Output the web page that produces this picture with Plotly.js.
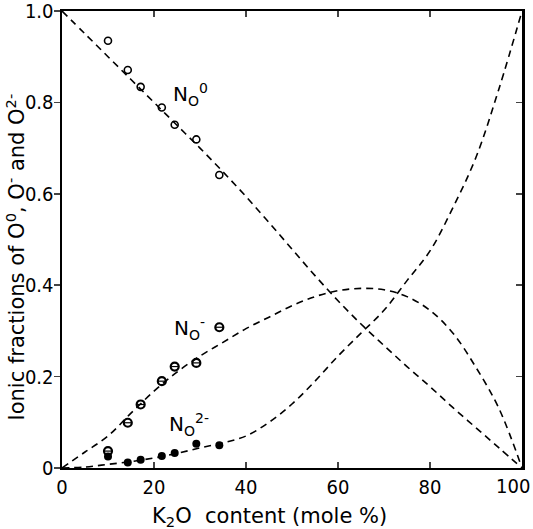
<!DOCTYPE html>
<html><head><meta charset="utf-8">
<script src="https://cdn.plot.ly/plotly-3.0.1.min.js"></script>
<style>html,body{margin:0;padding:0;background:#fff}#c{width:533px;height:529px}</style>
</head><body><div id="c"></div>
<script>
// measured points (K2O mole %)
const ptX = [10, 14.3, 17.1, 21.7, 24.5, 29.2, 34.2];
const ptO0 = [0.935, 0.871, 0.834, 0.789, 0.751, 0.719, 0.641];
const ptOm = [0.037, 0.099, 0.139, 0.190, 0.222, 0.230, 0.308];
const ptO2m = [0.025, 0.012, 0.018, 0.026, 0.033, 0.053, 0.050];

// calculated curves
const cX = [0, 5, 10, 15, 20, 25, 30, 35, 40, 45, 50, 55, 60, 65, 70, 75, 80, 85, 90, 95, 100];
const cO0 = [1.0, 0.95, 0.90, 0.85, 0.80, 0.75, 0.70, 0.648, 0.594, 0.537, 0.479, 0.421, 0.366, 0.315, 0.268, 0.222, 0.178, 0.132, 0.088, 0.044, 0.0];
const cOm = [0, 0.035, 0.07, 0.12, 0.168, 0.21, 0.245, 0.275, 0.305, 0.33, 0.355, 0.375, 0.388, 0.393, 0.39, 0.375, 0.345, 0.295, 0.22, 0.13, 0];
const cO2m = [0, 0.002, 0.008, 0.014, 0.022, 0.032, 0.044, 0.055, 0.07, 0.1, 0.14, 0.19, 0.245, 0.295, 0.345, 0.41, 0.475, 0.57, 0.68, 0.83, 1.0];

const yTicks = [0, 0.2, 0.4, 0.6, 0.8, 1.0];
const yTickText = ["0", "0.2", "0.4", "0.6", "0.8", "1.0"];
const xTicks = [0, 20, 40, 60, 80, 100];
const xTickText = ["0", "20", "40", "60", "80", ""];
const lastXLabel = "100";
const xTitle = "K<sub>2</sub>O  content (mole %)";
const yTitle = "Ionic fractions of O<sup>0</sup>, O<sup>-</sup> and O<sup>2-</sup>";

const font = "DejaVu Sans, sans-serif";
const tickFont = "DejaVu Sans Condensed, DejaVu Sans, sans-serif";
const dashLine = {color: "#000", width: 1.6, dash: "7px,5px", shape: "spline"};

const traces = [
  {x: cX, y: cO0, mode: "lines", line: dashLine},
  {x: cX, y: cOm, mode: "lines", line: dashLine},
  {x: cX, y: cO2m, mode: "lines", line: dashLine},
  {x: ptX, y: ptO0, mode: "markers", marker: {symbol: "circle-open", size: 7, color: "#000", line: {width: 1.6, color: "#000"}}},
  {x: ptX, y: ptOm, mode: "markers", marker: {symbol: "circle-open", size: 8, color: "#000", line: {width: 2.2, color: "#000"}}},
  {x: ptX, y: ptOm, mode: "markers", marker: {symbol: "line-ew-open", size: 5, color: "#000", line: {width: 1.2, color: "#000"}}},
  {x: ptX, y: ptO2m, mode: "markers", marker: {symbol: "circle", size: 8, color: "#000"}},
  {x: [0], y: [0], xaxis: "x2", yaxis: "y2", mode: "markers", marker: {opacity: 0}}
];

const layout = {
  width: 533, height: 529,
  margin: {l: 62, r: 11, t: 11, b: 61},
  paper_bgcolor: "#fff", plot_bgcolor: "#fff",
  showlegend: false,
  font: {family: font, color: "#000"},
  xaxis: {
    range: [0, 100], tickvals: xTicks, ticktext: xTickText, ticks: "inside", ticklen: 6, tickwidth: 1.5,
    showline: true, linewidth: 2, linecolor: "#000", mirror: "ticks", showgrid: false, zeroline: false,
    tickfont: {size: 20, family: tickFont}
  },
  yaxis: {
    range: [0, 1.0], tickvals: yTicks, ticktext: yTickText, ticks: "outside", ticklen: 6, tickwidth: 1.5,
    showline: true, linewidth: 2.5, linecolor: "#000", mirror: true, showgrid: false, zeroline: false,
    tickfont: {size: 20, family: tickFont}, ticklabelstandoff: -4, ticklabeloverflow: "allow"
  },
  xaxis2: {range: [0, 100], overlaying: "x", side: "top", showticklabels: false, showgrid: false, zeroline: false, ticks: ""},
  yaxis2: {range: [0, 1.0], overlaying: "y", side: "right", tickvals: yTicks, ticks: "inside", ticklen: 6, tickwidth: 1.5,
    showticklabels: false, showgrid: false, zeroline: false, showline: false},
  annotations: [
    {x: 28, y: 0.818, text: "N<sub>O</sub><sup>0</sup>", showarrow: false, font: {size: 20, family: font}},
    {x: 27.8, y: 0.306, text: "N<sub>O</sub><sup>-</sup>", showarrow: false, font: {size: 20, family: font}},
    {x: 27.6, y: 0.095, text: "N<sub>O</sub><sup>2-</sup>", showarrow: false, font: {size: 20, family: font}},
    {x: 100, xref: "x", y: 0, yref: "paper", xanchor: "right", yanchor: "top", xshift: 10, yshift: -4,
     text: lastXLabel, showarrow: false, font: {size: 20, family: tickFont}},
    {x: 0.452, xref: "paper", y: 0, yref: "paper", xanchor: "center", yanchor: "middle", yshift: -49,
     text: xTitle, showarrow: false, font: {size: 21, family: font}},
    {x: 0, xref: "paper", y: 0.5, yref: "paper", xanchor: "center", yanchor: "middle", xshift: -47, yshift: -18,
     textangle: -90, text: yTitle, showarrow: false, font: {size: 21, family: font}}
  ]
};
Plotly.newPlot("c", traces, layout, {displayModeBar: false, staticPlot: true});
</script></body></html>
